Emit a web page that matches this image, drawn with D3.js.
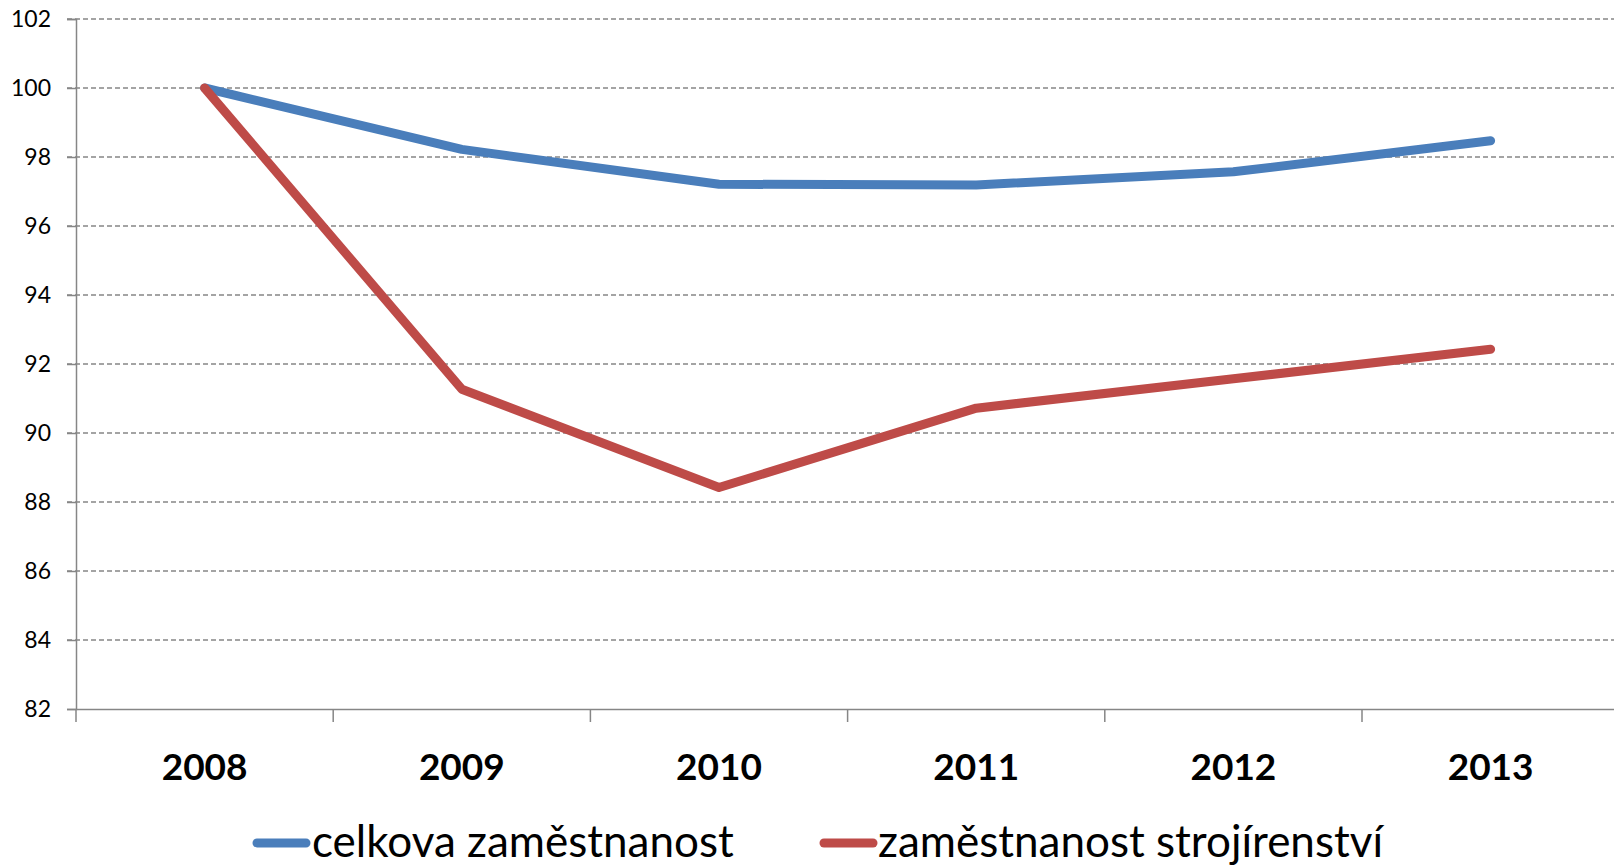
<!DOCTYPE html>
<html><head><meta charset="utf-8">
<script src="https://cdn.jsdelivr.net/npm/d3@7"></script>
<style>html,body{margin:0;padding:0;background:#fff;overflow:hidden}</style>
</head><body>
<svg id="chart" width="1614" height="868"></svg>
<script>
const years = ["2008","2009","2010","2011","2012","2013"];
const celkova = [100, 98.22, 97.21, 97.19, 97.57, 98.47];
const strojirenstvi = [100, 91.27, 88.42, 90.72, 91.57, 92.43];
const yTicks = [82,84,86,88,90,92,94,96,98,100,102];
const seriesNames = ["celkova zaměstnanost", "zaměstnanost strojírenství"];
const seriesColors = ["#4a7ebb", "#be4b48"];

const svg = d3.select("#chart");
const mLeft = 76, mTop = 19, mBottom = 709, band = 257.2;
const x = d3.scaleBand().domain(years).range([mLeft, mLeft + band*years.length]).padding(0);
const y = d3.scaleLinear().domain([82,102]).range([mBottom, mTop]);
const font = "Lato, 'Open Sans', sans-serif";

// gridlines
svg.append("g").selectAll("line").data(yTicks.filter(d=>d>82)).join("line")
  .attr("x1", 67).attr("x2", 1614)
  .attr("y1", d=>y(d)).attr("y2", d=>y(d))
  .attr("stroke", "#868686").attr("stroke-width", 1.3).attr("stroke-dasharray", "5,3");

// y axis
const yAxis = svg.append("g").attr("transform", `translate(${mLeft},0)`)
  .call(d3.axisLeft(y).tickValues(yTicks).tickSize(9).tickPadding(16).tickFormat(d3.format("d")));
yAxis.select(".domain").attr("stroke", "#868686").attr("stroke-width", 1.5);
yAxis.selectAll(".tick line").attr("stroke", "#868686").attr("stroke-width", 1.5);
yAxis.selectAll(".tick text").attr("font-family", font).attr("font-size", 23).attr("fill", "#000");

// x axis
const xAxis = svg.append("g").attr("transform", `translate(0,${mBottom})`)
  .call(d3.axisBottom(x).tickSize(0).tickPadding(45));
xAxis.select(".domain").attr("stroke", "#868686").attr("stroke-width", 1.5);
xAxis.selectAll(".tick text").attr("font-family", font).attr("font-size", 37).attr("font-weight", "bold").attr("fill", "#000");
// category boundary ticks
const bounds = years.map(d => x(d));
svg.append("g").selectAll("line").data(bounds).join("line")
  .attr("x1", d=>d).attr("x2", d=>d).attr("y1", mBottom).attr("y2", mBottom+13)
  .attr("stroke", "#868686").attr("stroke-width", 1.5);

// lines
const line = d3.line().x((d,i)=>x(years[i]) + x.bandwidth()/2).y(d=>y(d));
[celkova, strojirenstvi].forEach((s, i) => {
  svg.append("path").datum(s).attr("d", line)
    .attr("fill", "none").attr("stroke", seriesColors[i]).attr("stroke-width", 9)
    .attr("stroke-linejoin", "round").attr("stroke-linecap", "round");
});

// legend
const legendPos = [{lx1:257, lx2:306, tx:312}, {lx1:824, lx2:873, tx:878}];
seriesNames.forEach((n, i) => {
  const p = legendPos[i];
  svg.append("line").attr("x1", p.lx1).attr("x2", p.lx2).attr("y1", 843).attr("y2", 843)
    .attr("stroke", seriesColors[i]).attr("stroke-width", 9).attr("stroke-linecap", "round");
  svg.append("text").attr("x", p.tx).attr("y", 857).text(n)
    .attr("font-family", font).attr("font-size", 44).attr("fill", "#000");
});
</script>
</body></html>
